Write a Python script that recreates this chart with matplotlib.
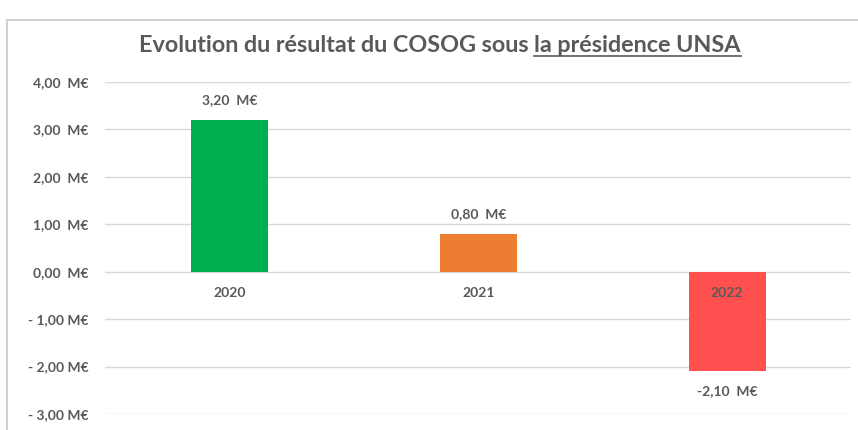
import matplotlib.pyplot as plt
from matplotlib.patches import Rectangle
from matplotlib.lines import Line2D

plt.rcParams['font.family'] = ['Lato', 'DejaVu Sans']

# données (millions d'euros)
annees = ['2020', '2021', '2022']
resultats = [3.20, 0.80, -2.10]
couleurs = ['#00B050', '#ED7D31', '#FF5050']
gris = '#595959'


def fmt_euro(v):
    s = '{:.2f}'.format(abs(v)).replace('.', ',')
    return ('- ' + s + ' M€') if v < 0 else (s + '  M€')


fig = plt.figure(figsize=(8.58, 4.30), dpi=100)
ax = fig.add_axes([0.1224, 0.0372, 0.8700, 0.7721])

x = range(len(annees))
ax.bar(x, resultats, width=0.31, color=couleurs, zorder=2)

ax.set_xlim(-0.5, 2.5)
ax.set_ylim(-3, 4)
ax.set_yticks(range(-3, 5))
ax.set_yticklabels([fmt_euro(v) for v in range(-3, 5)],
                   fontweight='bold', fontsize=10, color=gris)
ax.yaxis.grid(True, color='#D9D9D9', linewidth=1, zorder=0)
ax.tick_params(axis='y', length=0, pad=12)
ax.set_xticks([])
for sp in ax.spines.values():
    sp.set_visible(False)

# étiquettes des catégories sur l'axe zéro
for i, a in enumerate(annees):
    ax.annotate(a, (i, 0), xytext=(0, -11), textcoords='offset points',
                ha='center', va='top', fontsize=10, fontweight='bold',
                color=gris, zorder=3)

# étiquettes de valeurs
for i, v in enumerate(resultats):
    lab = '{:.2f}'.format(v).replace('.', ',') + '  M€'
    off = 10 if v >= 0 else -10
    ax.annotate(lab, (i, v), xytext=(0, off), textcoords='offset points',
                ha='center', va='bottom' if v >= 0 else 'top',
                fontsize=10, fontweight='bold', color=gris, zorder=3)

# cadre du graphique
fig.patches.append(Rectangle((7 / 858, -0.05), 1.0, 1.0 - 20 / 430 + 0.05,
                             transform=fig.transFigure, fill=False,
                             edgecolor='#D0D0D0', linewidth=1.5))

# titre avec partie soulignée
t1 = fig.text(0.0, 1 - 46 / 430, 'Evolution du résultat du COSOG sous ',
              fontsize=16.8, fontweight='bold', color=gris, va='center', ha='left')
t2 = fig.text(0.0, 1 - 46 / 430, 'la présidence UNSA',
              fontsize=16.8, fontweight='bold', color=gris, va='center', ha='left')
fig.canvas.draw()
r = fig.canvas.get_renderer()
w1 = t1.get_window_extent(r).width
w2 = t2.get_window_extent(r).width
W = fig.bbox.width
x0 = 440 - (w1 + w2) / 2
t1.set_x(x0 / W)
t2.set_x((x0 + w1) / W)
bb = t2.get_window_extent(r)
yl = (bb.y0 + 1) / fig.bbox.height
fig.add_artist(Line2D([(x0 + w1) / W, (x0 + w1 + w2) / W], [yl, yl],
                      transform=fig.transFigure, color=gris, linewidth=1.2))

plt.savefig('out.png', dpi=100)
